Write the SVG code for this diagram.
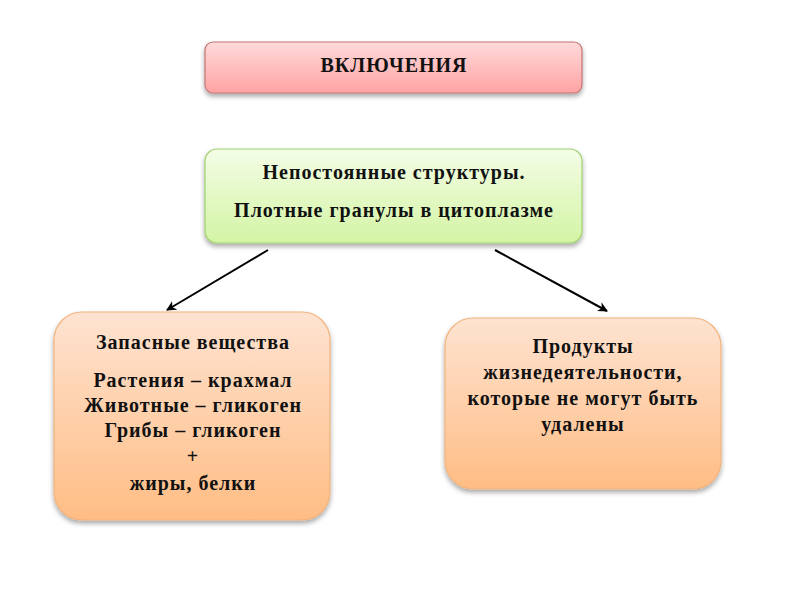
<svg xmlns="http://www.w3.org/2000/svg" width="800" height="600" viewBox="0 0 800 600">
<defs>
<linearGradient id="gPink" x1="0" y1="0" x2="0" y2="1">
<stop offset="0" stop-color="#ffdada"/>
<stop offset="1" stop-color="#ffa3a3"/>
</linearGradient>
<linearGradient id="gGreen" x1="0" y1="0" x2="0" y2="1">
<stop offset="0" stop-color="#f4fde6"/>
<stop offset="1" stop-color="#d3f4a4"/>
</linearGradient>
<linearGradient id="gOrange" x1="0" y1="0" x2="0" y2="1">
<stop offset="0" stop-color="#fee3d1"/>
<stop offset="1" stop-color="#ffbd84"/>
</linearGradient>
<filter id="sh" x="-10%" y="-10%" width="120%" height="130%">
<feGaussianBlur in="SourceAlpha" stdDeviation="2.5"/>
<feOffset dx="0" dy="3" result="b"/>
<feComponentTransfer><feFuncA type="linear" slope="0.35"/></feComponentTransfer>
<feMerge><feMergeNode/><feMergeNode in="SourceGraphic"/></feMerge>
</filter>
<marker id="arr" viewBox="0 0 10 10" refX="9" refY="5" markerWidth="10" markerHeight="10" markerUnits="userSpaceOnUse" orient="auto">
<path d="M0,0 L10,5 L0,10 L3,5 z" fill="#000"/>
</marker>
</defs>
<style>
text{font-family:"Liberation Serif","Times New Roman",serif;font-weight:bold;font-size:20px;letter-spacing:1px;fill:#111;text-anchor:middle}
.conn{stroke:#000;stroke-width:2;fill:none}
</style>
<rect width="800" height="600" fill="#fff"/>
<g id="connectors">
<line class="conn" x1="268" y1="250" x2="167" y2="310" marker-end="url(#arr)"/>
<line class="conn" x1="495" y1="250" x2="607" y2="311" marker-end="url(#arr)"/>
</g>
<g id="node-vkl">
<rect x="205" y="42" width="377" height="51" rx="8" fill="url(#gPink)" stroke="#c47575" stroke-width="1.2" filter="url(#sh)"/>
<text x="394" y="72">ВКЛЮЧЕНИЯ</text>
</g>
<g id="node-nepost">
<rect x="205" y="149" width="377" height="94" rx="12" fill="url(#gGreen)" stroke="#9fd170" stroke-width="1.2" filter="url(#sh)"/>
<text x="394" y="179">Непостоянные структуры.</text>
<text x="394" y="217">Плотные гранулы в цитоплазме</text>
</g>
<g id="node-zapas">
<rect x="54" y="312" width="276" height="208" rx="28" fill="url(#gOrange)" stroke="#f2b47f" stroke-width="1.2" filter="url(#sh)"/>
<text x="193" y="349">Запасные вещества</text>
<text x="193" y="387">Растения – крахмал</text>
<text x="193" y="412">Животные – гликоген</text>
<text x="193" y="437">Грибы – гликоген</text>
<text x="193" y="463">+</text>
<text x="193" y="490">жиры, белки</text>
</g>
<g id="node-produkty">
<rect x="445" y="318" width="276" height="171" rx="28" fill="url(#gOrange)" stroke="#f2b47f" stroke-width="1.2" filter="url(#sh)"/>
<text x="583" y="353">Продукты</text>
<text x="583" y="379">жизнедеятельности,</text>
<text x="583" y="405">которые не могут быть</text>
<text x="583" y="431">удалены</text>
</g>
</svg>
